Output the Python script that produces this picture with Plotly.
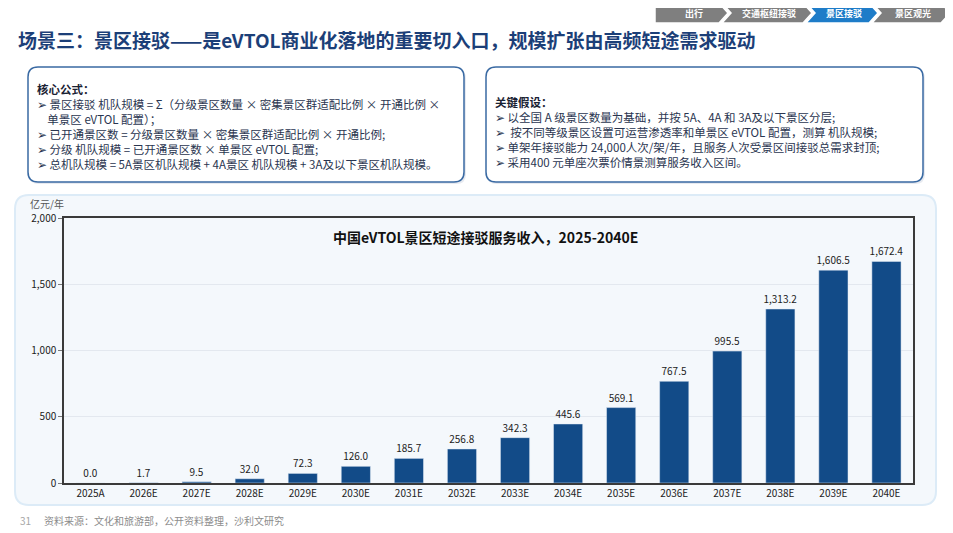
import plotly.graph_objects as go

# chart data
years = ['2025A', '2026E', '2027E', '2028E', '2029E', '2030E', '2031E', '2032E',
         '2033E', '2034E', '2035E', '2036E', '2037E', '2038E', '2039E', '2040E']
revenue = [0.0, 1.7, 9.5, 32.0, 72.3, 126.0, 185.7, 256.8,
           342.3, 445.6, 569.1, 767.5, 995.5, 1313.2, 1606.5, 1672.4]
y_ticks = [0, 500, 1000, 1500, 2000]

page_title = '场景三：景区接驳——是eVTOL商业化落地的重要切入口，规模扩张由高频短途需求驱动'
chart_title = '中国eVTOL景区短途接驳服务收入，2025-2040E'
unit_label = '亿元/年'
nav_items = ['出行', '交通枢纽接驳', '景区接驳', '景区观光']
formula_head = '核心公式：'
formula_lines = [
    '➢ 景区接驳 机队规模 = Σ（分级景区数量 × 密集景区群适配比例 × 开通比例 ×',
    '    单景区 eVTOL 配置）；',
    '➢ 已开通景区数 = 分级景区数量 × 密集景区群适配比例 × 开通比例;',
    '➢ 分级 机队规模 = 已开通景区数 × 单景区 eVTOL 配置;',
    '➢ 总机队规模 = 5A景区机队规模 + 4A景区 机队规模 + 3A及以下景区机队规模。',
]
assume_head = '关键假设：'
assume_lines = [
    '➢ 以全国 A 级景区数量为基础，并按 5A、4A 和 3A及以下景区分层;',
    '➢  按不同等级景区设置可运营渗透率和单景区 eVTOL 配置，测算 机队规模;',
    '➢ 单架年接驳能力 24,000人次/架/年，且服务人次受景区间接驳总需求封顶;',
    '➢ 采用400 元单座次票价情景测算服务收入区间。',
]
source_text = '资料来源：文化和旅游部，公开资料整理，沙利文研究'
page_no = '31'

# page body has an 8px margin, so the figure is drawn 8px smaller and everything
# below is given in window pixels
OFF = 8
W, H = 953 - OFF, 533 - OFF
L, R, T, B = 64, 913, 218, 483
FONT = 'Noto Sans CJK SC, Arial, sans-serif'


def fx(p):
    return (p - L) / (R - L)


def fy(p):
    return (B - p) / (B - T)


def rounded(x0, y0, x1, y1, r):
    pts = [
        f'M {fx(x0 + r)},{fy(y0)}',
        f'L {fx(x1 - r)},{fy(y0)}',
        f'Q {fx(x1)},{fy(y0)} {fx(x1)},{fy(y0 + r)}',
        f'L {fx(x1)},{fy(y1 - r)}',
        f'Q {fx(x1)},{fy(y1)} {fx(x1 - r)},{fy(y1)}',
        f'L {fx(x0 + r)},{fy(y1)}',
        f'Q {fx(x0)},{fy(y1)} {fx(x0)},{fy(y1 - r)}',
        f'L {fx(x0)},{fy(y0 + r)}',
        f'Q {fx(x0)},{fy(y0)} {fx(x0 + r)},{fy(y0)}',
        'Z',
    ]
    return ' '.join(pts)


def chevron(x0, x1, y0, y1, d, notch):
    ym = (y0 + y1) / 2
    pts = [(x0, y0), (x1 - d, y0), (x1, ym), (x1 - d, y1), (x0, y1)]
    if notch:
        pts.append((x0 + d, ym))
    return 'M ' + ' L '.join(f'{fx(a)},{fy(b)}' for a, b in pts) + ' Z'


def label(x, y, text, size, color, anchor='left', yanchor='middle'):
    return dict(x=fx(x), y=fy(y), xref='paper', yref='paper', text=text, showarrow=False,
                font=dict(size=size, color=color, family=FONT), xanchor=anchor, yanchor=yanchor,
                align='left', borderpad=0)


fig = go.Figure(go.Bar(
    x=years, y=revenue,
    marker_color='#124b88', width=0.55,
    text=revenue, texttemplate='%{y:,.1f}', textposition='outside', constraintext='none',
    textfont=dict(size=10, color='#222222'), cliponaxis=False,
))

shapes = []
annotations = []

# chart panel
shapes.append(dict(type='path', path=rounded(15, 195, 936, 505, 14), xref='paper', yref='paper',
                   fillcolor='#f4f8fc', line=dict(color='#dcebf7', width=2), layer='below'))

# boxes with shadow
for x0, x1 in [(28, 464), (486, 923)]:
    shapes.append(dict(type='path', path=rounded(x0 + 1, 69, x1 + 2, 184, 10), xref='paper', yref='paper',
                       fillcolor='rgba(120,140,170,0.18)', line=dict(width=0), layer='below'))
    shapes.append(dict(type='path', path=rounded(x0, 67, x1, 182, 10), xref='paper', yref='paper',
                       fillcolor='white', line=dict(color='#3a6aa3', width=1.5), layer='below'))

# breadcrumb
nav_x = [(655, 728), (722, 812), (806, 878), (872, 950)]
for i, (name, (a, b)) in enumerate(zip(nav_items, nav_x)):
    col = '#1e7cc8' if name == '景区接驳' else '#7f7f7f'
    shapes.append(dict(type='path', path=chevron(a, b, 3, 23, 9, i > 0), xref='paper', yref='paper',
                       fillcolor=col, line=dict(color='white', width=1.5), layer='below'))
    annotations.append(label((a + b) / 2 + 2, 13, f'<b>{name}</b>', 9, 'white', 'center'))

# page title
annotations.append(label(17, 40, f'<b>{page_title}</b>', 19, '#1c3f78'))

# formula box text (one block, 11.5px -> ~15px line pitch)
formula_block = f'<b><span style="color:#1a2233">{formula_head}</span></b><br>' + '<br>'.join(formula_lines)
annotations.append(label(36, 80, formula_block, 11.5, '#2a3550', yanchor='top'))

# assumption box text
assume_block = f'<b><span style="color:#1a2233">{assume_head}</span></b><br>' + '<br>'.join(assume_lines)
annotations.append(label(494, 93, assume_block, 11.5, '#2a3550', yanchor='top'))

# chart title and unit
annotations.append(label(485, 237, f'<b>{chart_title}</b>', 14, '#111111', 'center'))
annotations.append(label(29, 203, unit_label, 10, '#555555'))

# footer
annotations.append(label(19, 520, page_no, 10, '#a6a6a6'))
annotations.append(label(43, 520, source_text, 10, '#8c8c8c'))

fig.update_layout(
    width=W, height=H,
    margin=dict(l=L - OFF, r=W - (R - OFF), t=T - OFF, b=H - (B - OFF), pad=0),
    paper_bgcolor='white', plot_bgcolor='rgba(0,0,0,0)',
    font=dict(family=FONT, color='#222222'),
    showlegend=False,
    shapes=shapes, annotations=annotations,
    xaxis=dict(type='category', range=[-0.5, 15.5], showline=True, linecolor='#3a3a3a', linewidth=1.5,
               mirror=True, ticks='', tickfont=dict(size=10, color='#222222'), showgrid=False),
    yaxis=dict(range=[0, 2000], tickvals=y_ticks, tickformat=',', showline=True, linecolor='#3a3a3a',
               linewidth=1.5, mirror=True, ticks='outside', ticklen=4, tickcolor='#777777',
               tickfont=dict(size=10, color='#222222'), gridcolor='#e3e8ef', gridwidth=1,
               zeroline=False),
)

fig.write_html('out.html')
